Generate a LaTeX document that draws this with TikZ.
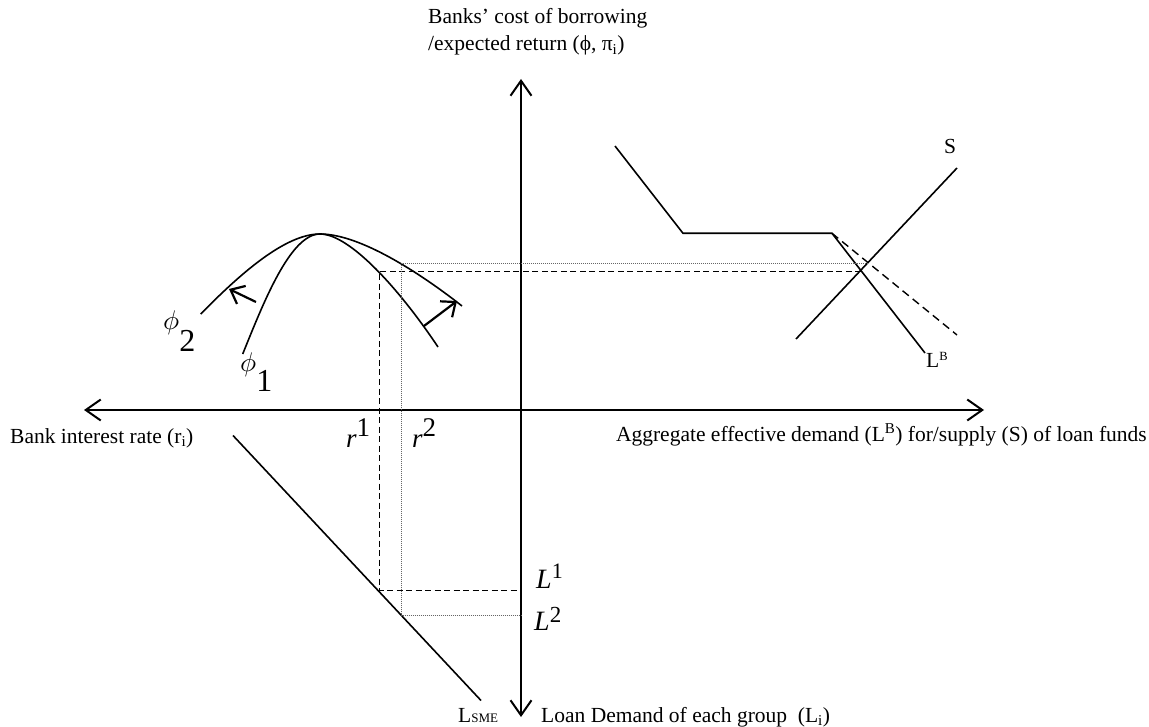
\documentclass[tikz,border=0pt]{standalone}
\usepackage{graphicx}
\usepackage{fontspec}
\setmainfont{Liberation Serif}
\usetikzlibrary{arrows.meta}
\tikzset{
  axis/.style={line width=2pt, {Straight Barb[length=15pt,width=21pt,line width=2pt]}-{Straight Barb[length=15pt,width=21pt,line width=2pt]}},
  curve/.style={line width=1.6pt},
  shiftarrow/.style={line width=2.2pt, -{Straight Barb[length=12pt,width=20pt,line width=2.2pt]}},
  dashline/.style={line width=1pt, dash pattern=on 6pt off 3.5pt},
  dotline/.style={line width=1pt, dash pattern=on 1pt off 1pt, black!60},
  txt/.style={font=\fontsize{21.5}{24}\selectfont, inner sep=0pt},
  mlab/.style={font=\fontsize{27}{27}\selectfont, inner sep=0pt},
  philab/.style={font=\fontsize{10}{10}\selectfont, inner sep=0pt}
}
\begin{document}
\begin{tikzpicture}[x=1pt,y=-1pt]
\useasboundingbox (0,0) rectangle (1149,727);
% axes
\coordinate (ytop) at (521,79);
\coordinate (ybot) at (521,717);
\coordinate (xl) at (84,410);
\coordinate (xr) at (984,410);
\draw[axis] (xl) -- (xr);
\draw[axis] (ybot) -- (ytop);

% phi curves
\coordinate (p2l) at (200.7,314);
\coordinate (apex) at (320,234);
\coordinate (p2r) at (462,306);
\coordinate (p1l) at (242.7,354);
\coordinate (p1r) at (438,347);
\draw[curve] (p2l) .. controls (240,274) and (285,234) .. (apex) .. controls (360,234) and (420,273) .. (p2r);
\draw[curve] (p1l) .. controls (263,304) and (290,234) .. (apex) .. controls (350,234) and (400,290) .. (p1r);

% shift arrows
\coordinate (la1) at (256,302);
\coordinate (la2) at (229,289);
\coordinate (ra1) at (424,326);
\coordinate (ra2) at (457,301);
\draw[shiftarrow] (la1) -- (la2);
\draw[shiftarrow] (ra1) -- (ra2);

% demand / supply
\coordinate (d1) at (615,146);
\coordinate (d2) at (683,233.3);
\coordinate (d3) at (832,233.3);
\coordinate (d4) at (925,353);
\coordinate (dd) at (957,335);
\coordinate (s1) at (796,339);
\coordinate (s2) at (957,168);
\draw[curve] (d1) -- (d2) -- (d3) -- (d4);
\draw[line width=1.4pt, dash pattern=on 8pt off 5pt] (d3) -- (dd);
\draw[curve] (s1) -- (s2);

% L_SME line
\coordinate (ls1) at (233,435.5);
\coordinate (ls2) at (481,700.5);
\draw[curve] (ls1) -- (ls2);

% guide lines
\coordinate (e1) at (861,271.5);
\coordinate (c1) at (379.5,271.5);
\coordinate (c1b) at (379.5,590);
\coordinate (l1) at (521,590);
\coordinate (e2) at (868,263.5);
\coordinate (c2) at (401,263.5);
\coordinate (c2b) at (401,615);
\coordinate (l2) at (521,615);
\draw[dashline] (e1) -- (c1) -- (c1b) -- (l1);
\draw[dotline] (e2) -- (c2) -- (c2b) -- (l2);

% labels
\node[txt, anchor=base west] (ytitle1) at (428,24) {Banks’ cost of borrowing};
\node[txt, anchor=base west] (ytitle2) at (428,51) {/expected return (ϕ, π\textsubscript{i})};
\node[txt, anchor=base west] (xltitle) at (10,443) {Bank interest rate (r\textsubscript{i})};
\node[txt, anchor=base east] (xrtitle) at (1147,441) {Aggregate effective demand (L\textsuperscript{B}) for/supply (S) of loan funds};
\node[txt, anchor=base west] (ybtitle) at (541,722) {Loan Demand of each group\ \ (L\textsubscript{i})};
\node[txt, anchor=base west] (lsme) at (458,722) {L{\fontsize{13}{13}\selectfont SME}};
\node[txt, anchor=base west] (slab) at (944,154) {S};
\node[txt, anchor=base west] (lblab) at (926,368) {L{\fontsize{12.5}{12.5}\selectfont\raisebox{8pt}{B}}};

\node[philab, anchor=base west] (phi2) at (163,330) {\scalebox{2.7}{$\phi$}\raisebox{-22pt}{\fontsize{32}{32}\selectfont 2}};
\node[philab, anchor=base west] (phi1) at (240,372) {\scalebox{2.7}{$\phi$}\raisebox{-20pt}{\fontsize{32}{32}\selectfont 1}};
\node[mlab, anchor=base west] (r1) at (346,447) {\itshape r\raisebox{10.5pt}{\upshape\fontsize{27}{27}\selectfont 1}};
\node[mlab, anchor=base west] (r2) at (412,447) {\itshape r\raisebox{10.5pt}{\upshape\fontsize{27}{27}\selectfont 2}};
\node[mlab, anchor=base west, font=\fontsize{28}{28}\selectfont] (L1) at (536,588) {\itshape L\raisebox{10pt}{\upshape\fontsize{22}{22}\selectfont 1}};
\node[mlab, anchor=base west, font=\fontsize{28}{28}\selectfont] (L2) at (534,630) {\itshape L\raisebox{8pt}{\upshape\fontsize{23}{23}\selectfont 2}};
\end{tikzpicture}
\end{document}
